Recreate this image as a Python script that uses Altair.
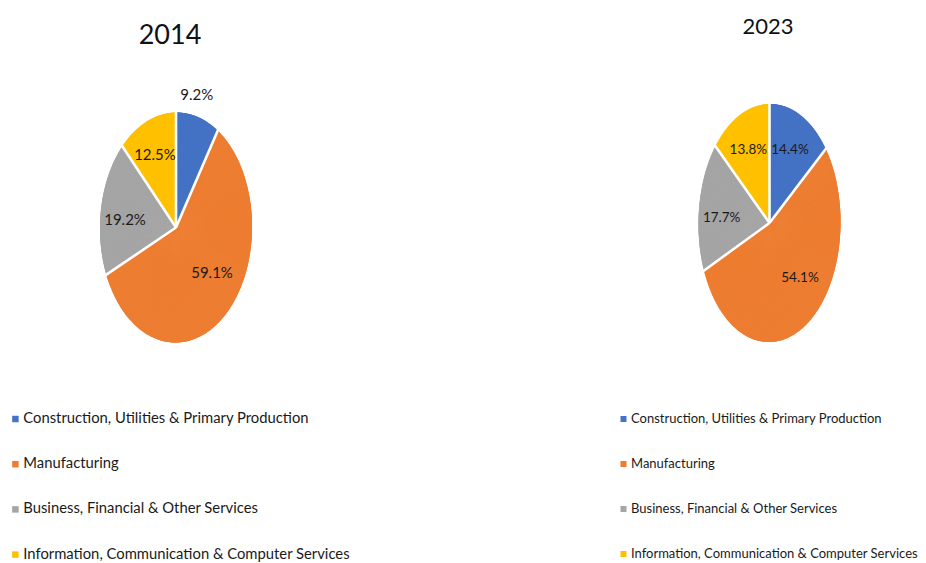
import math
import altair as alt
import pandas as pd

# ---------------- data ----------------
categories = [
    "Construction, Utilities & Primary Production",
    "Manufacturing",
    "Business, Financial & Other Services",
    "Information, Communication & Computer Services",
]
years = ["2014", "2023"]
shares_2014 = [9.2, 59.1, 19.2, 12.5]
shares_2023 = [14.4, 54.1, 17.7, 13.8]
colors = ["#4472C4", "#ED7D31", "#A5A5A5", "#FFC000"]

# ---------------- layout / style ----------------
FONT = "Lato"
TEXT_COLOR = "#1a1a1a"
PANEL_W, PANEL_H = 455, 547
PAGE_MARGIN = 8

layouts = {
    "2014": dict(ox=8, cx=176, cy=227.5, rx=76, ry=115,
                 title_x=170, title_y=35.5, title_size=27,
                 label_size=15, legend_size=14.8, legend_x=0, label_offset=0.5,
                 symbol_size=42,
                 label_k=[1.2, 0.6, 0.65, 0.65],
                 nudge_x=[-5.3, 6.4, -2.4, -2.1],
                 nudge_y=[0, -7, 6, -3.4]),
    "2023": dict(ox=463, cx=769.5, cy=223, rx=71, ry=119,
                 title_x=768, title_y=27.3, title_size=22,
                 label_size=13.5, legend_size=13, legend_x=154, label_offset=1,
                 symbol_size=36,
                 label_k=[0.65, 0.6, 0.65, 0.65],
                 nudge_x=[0.3, 8.7, -2.2, -1.8],
                 nudge_y=[-3.4, -6.3, 6.4, -2.8]),
}
LEGEND_FIRST_ROW_Y = 419
LEGEND_ROW_PITCH = 44.0
N_WEDGES = 720


def cumulative(shares):
    total = float(sum(shares))
    out, c = [], 0.0
    for s in shares:
        c += s / total
        out.append(c)
    return out


def wedge_table(shares, rx, ry, n=N_WEDGES):
    cum = cumulative(shares)
    step = 2 * math.pi / n
    rows = []
    for i in range(n):
        a0 = i * step
        am = a0 + step / 2
        r = 1.0 / math.sqrt((math.sin(am) / rx) ** 2 + (math.cos(am) / ry) ** 2)
        t = math.atan2(math.sin(am) / rx, math.cos(am) / ry) % (2 * math.pi)
        f = t / (2 * math.pi)
        k = len(cum) - 1
        for j, cv in enumerate(cum):
            if f < cv:
                k = j
                break
        a1 = min(a0 + step * 3, 2 * math.pi)
        rows.append(dict(a0=a0, a1=a1, r=r, cat=categories[k]))
    return pd.DataFrame(rows)


def panel(year, shares):
    L = layouts[year]
    cx = L["cx"] - L["ox"]
    cy = L["cy"] - PAGE_MARGIN
    rx, ry = L["rx"], L["ry"]
    xs = alt.Scale(domain=[-1, 1], range=[cx - rx, cx + rx], nice=False, zero=False)
    ys = alt.Scale(domain=[-1, 1], range=[cy + ry, cy - ry], nice=False, zero=False)

    wdf = wedge_table(shares, rx, ry)
    leg_size = L["legend_size"]
    legend = alt.Legend(
        orient="none",
        legendX=L["legend_x"],
        legendY=LEGEND_FIRST_ROW_Y - PAGE_MARGIN - leg_size / 2,
        title=None,
        direction="vertical",
        symbolType="square",
        symbolSize=L["symbol_size"],
        symbolStrokeWidth=0,
        labelFont=FONT,
        labelFontSize=leg_size,
        labelColor=TEXT_COLOR,
        labelLimit=600,
        labelOffset=L["label_offset"],
        rowPadding=LEGEND_ROW_PITCH - leg_size,
        padding=0,
    )
    wedges = alt.Chart(wdf).mark_arc(strokeWidth=0).encode(
        theta=alt.Theta("a0:Q", scale=None, stack=None),
        theta2="a1:Q",
        radius=alt.Radius("r:Q", scale=None),
        color=alt.Color("cat:N", scale=alt.Scale(domain=categories, range=colors),
                        legend=legend, sort=categories),
        x=alt.value(cx),
        y=alt.value(cy),
    )

    cum = cumulative(shares)
    bdf = pd.DataFrame({"F": [0.0] + cum[:-1]})
    rules = alt.Chart(bdf).transform_calculate(
        x0="0", y0="0",
        x1="1.03*sin(2*PI*datum.F)",
        y1="1.03*cos(2*PI*datum.F)",
    ).mark_rule(color="white", strokeWidth=2.6).encode(
        x=alt.X("x0:Q", scale=xs, axis=None),
        y=alt.Y("y0:Q", scale=ys, axis=None),
        x2="x1:Q",
        y2="y1:Q",
    )

    starts = [0.0] + cum[:-1]
    lrows = []
    for i, v in enumerate(shares):
        mid = 2 * math.pi * (starts[i] + cum[i]) / 2
        k = L["label_k"][i]
        lx = k * math.sin(mid) + L["nudge_x"][i] / rx
        ly = k * math.cos(mid) - L["nudge_y"][i] / ry
        lrows.append(dict(lab=f"{v:.1f}%", lx=lx, ly=ly))
    ldf = pd.DataFrame(lrows)
    labels = alt.Chart(ldf).mark_text(
        font=FONT, fontSize=L["label_size"], color=TEXT_COLOR,
        align="center", baseline="middle",
    ).encode(
        x=alt.X("lx:Q", scale=xs, axis=None),
        y=alt.Y("ly:Q", scale=ys, axis=None),
        text="lab:N",
    )

    title = alt.Chart(pd.DataFrame({"year": [year]})).mark_text(
        font=FONT, fontSize=L["title_size"], color="#111111",
        align="center", baseline="middle",
    ).encode(
        text="year:N",
        x=alt.value(L["title_x"] - L["ox"]),
        y=alt.value(L["title_y"] - PAGE_MARGIN),
    )

    return alt.layer(wedges, rules, labels, title).properties(
        width=PANEL_W, height=PANEL_H
    )


chart = alt.hconcat(
    panel("2014", shares_2014),
    panel("2023", shares_2023),
    spacing=0,
).resolve_scale(color="independent").properties(
    padding=0, background="white"
).configure_view(stroke=None)

chart.save("out.html", embed_options={"renderer": "svg", "actions": False})
